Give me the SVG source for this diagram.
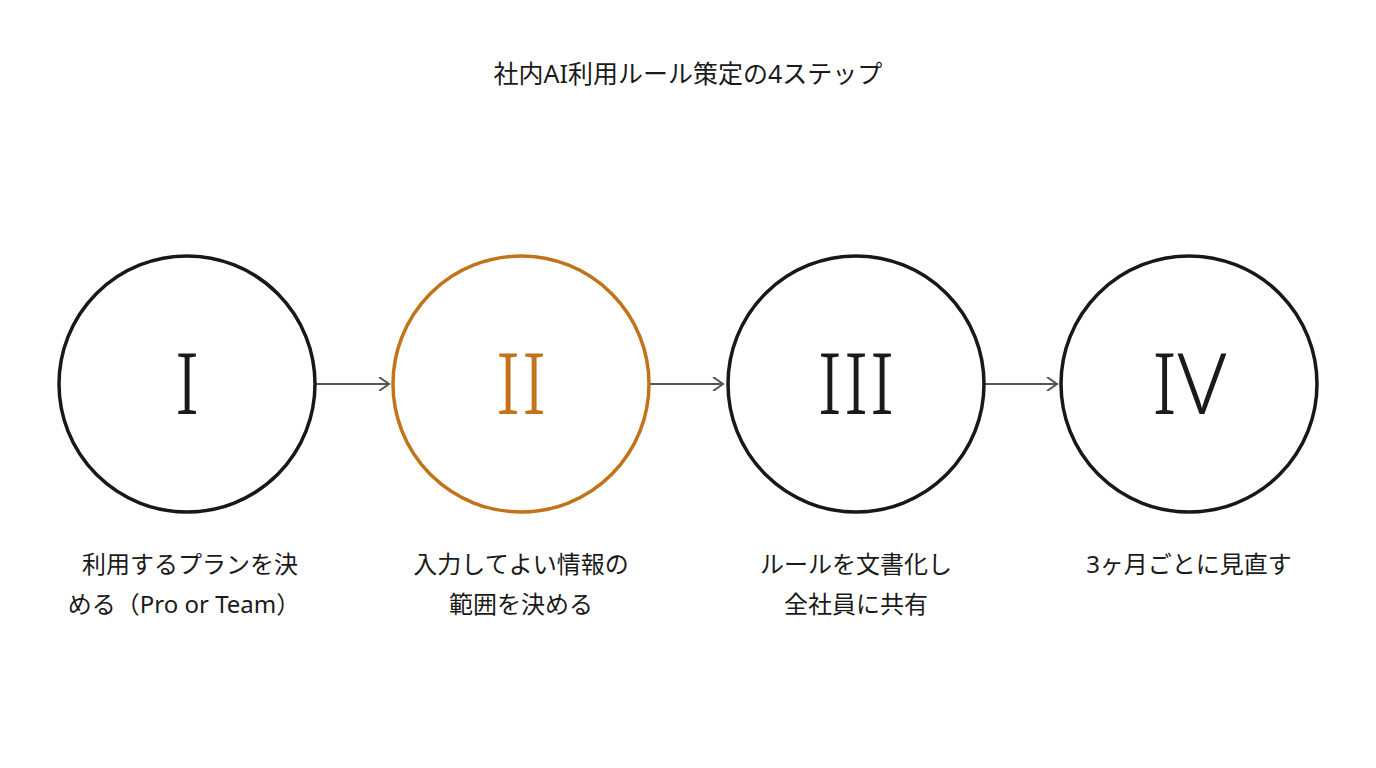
<svg xmlns="http://www.w3.org/2000/svg" width="1376" height="768" viewBox="0 0 1376 768">
<style>
text{font-family:"Noto Sans","Noto Sans CJK JP",sans-serif;fill:#1a1a1a;text-anchor:middle}
.c{fill:#fff;stroke:#1a1816;stroke-width:3.5}
.o{stroke:#C2731A}
.n{font-size:84px;font-weight:300}
.l{font-size:24px}
.t{font-size:25px}
.a{stroke:#555;stroke-width:2;fill:none}
</style>
<defs><marker id="ah" markerWidth="14" markerHeight="14" refX="12" refY="7" orient="auto" markerUnits="userSpaceOnUse"><path d="M2,0 L12,7 L2,14" fill="none" stroke="#555" stroke-width="2"/></marker></defs>
<text class="t" x="688" y="83">社内AI利用ルール策定の4ステップ</text>
<g id="connectors">
<line class="a" x1="316" y1="384" x2="389" y2="384" marker-end="url(#ah)"/>
<line class="a" x1="650" y1="384" x2="723" y2="384" marker-end="url(#ah)"/>
<line class="a" x1="985" y1="384" x2="1057" y2="384" marker-end="url(#ah)"/>
</g>
<g id="n1"><circle class="c" cx="187" cy="384" r="128"/><text class="n" x="187" y="414">I</text>
<text class="l" x="190" y="573">利用するプランを決</text><text class="l" x="184" y="613">める（Pro or Team）</text></g>
<g id="n2"><circle class="c o" cx="521" cy="384" r="128"/><text class="n" x="521" y="414" style="fill:#C2731A">II</text>
<text class="l" x="521" y="573">入力してよい情報の</text><text class="l" x="521" y="613">範囲を決める</text></g>
<g id="n3"><circle class="c" cx="856" cy="384" r="128"/><text class="n" x="856" y="414">III</text>
<text class="l" x="856" y="573">ルールを文書化し</text><text class="l" x="856" y="613">全社員に共有</text></g>
<g id="n4"><circle class="c" cx="1189" cy="384" r="128"/><text class="n" x="1189" y="414">IV</text>
<text class="l" x="1189" y="573">3ヶ月ごとに見直す</text></g>
</svg>
